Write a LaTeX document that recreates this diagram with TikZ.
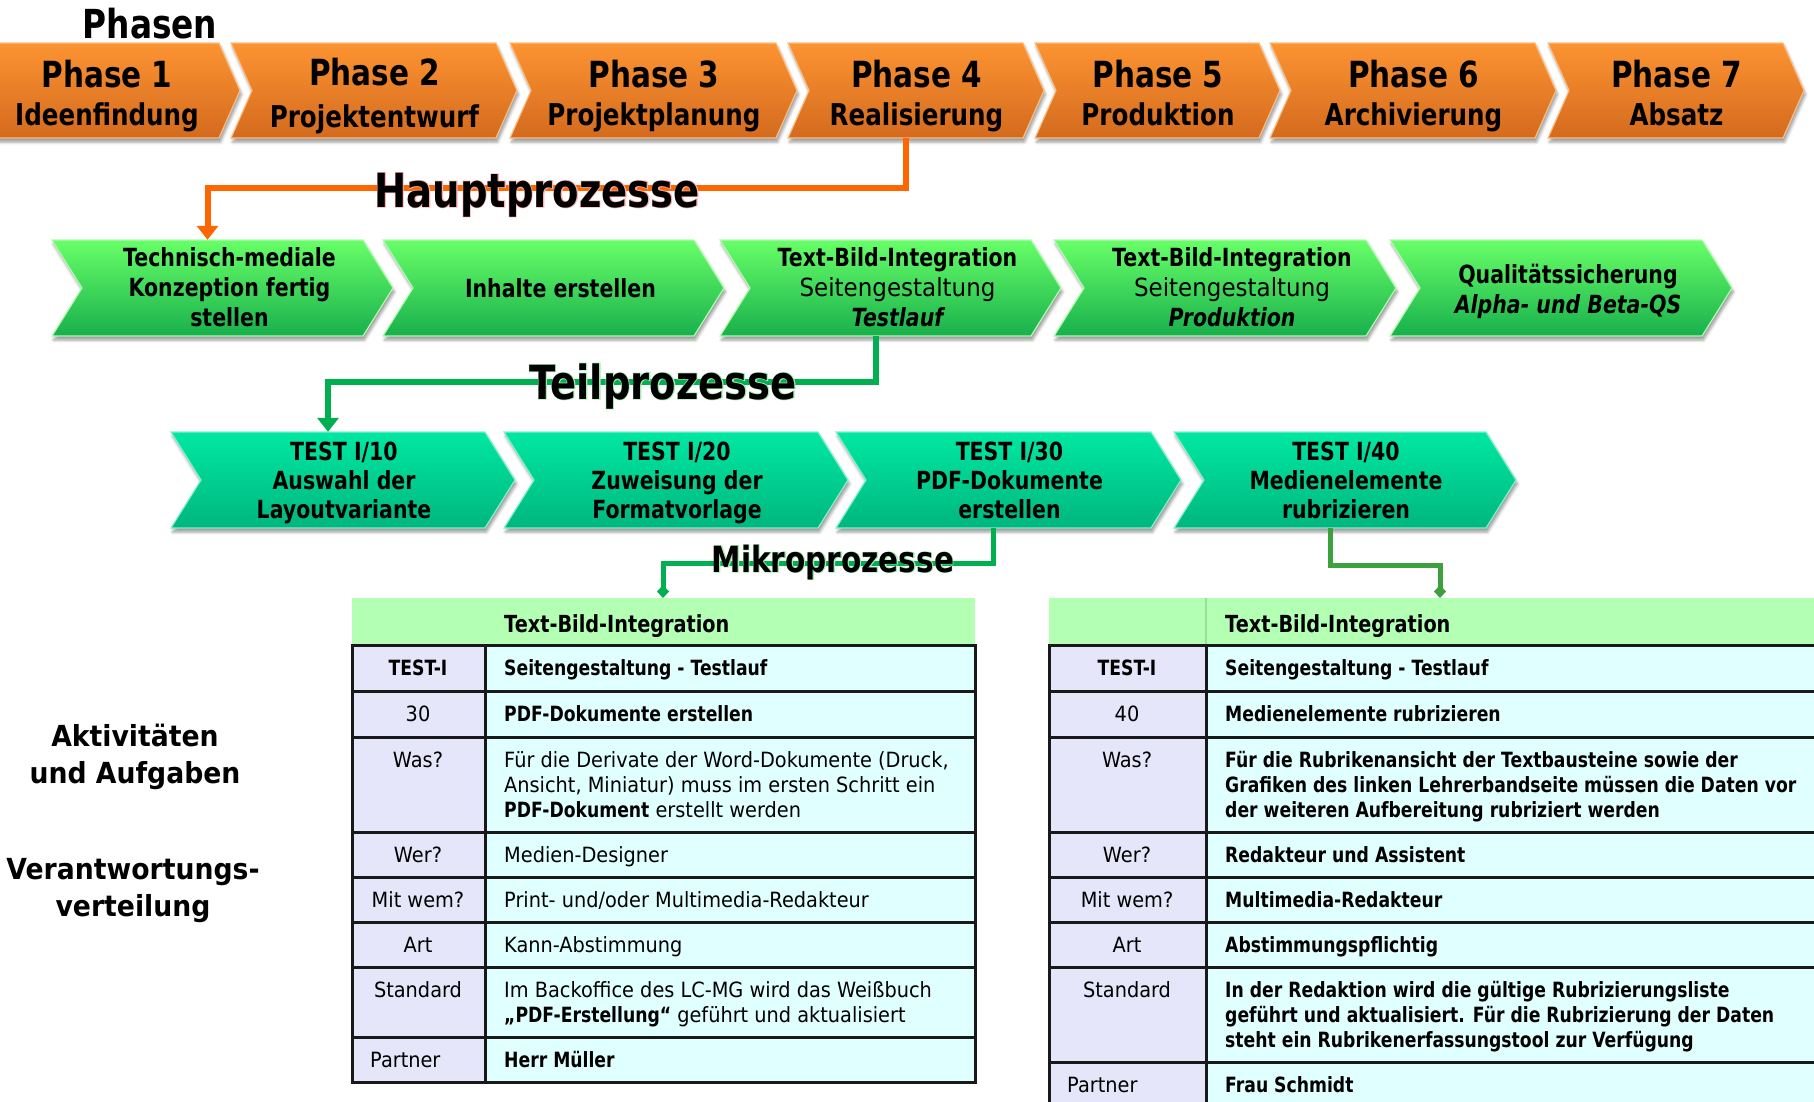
\documentclass[tikz,border=0pt]{standalone}
\usepackage{fontspec}
\setmainfont{DejaVu Sans}[
  UprightFeatures={FakeStretch=0.92},
  BoldFeatures={FakeStretch=0.82},
  ItalicFeatures={FakeStretch=0.92},
  BoldItalicFeatures={FakeStretch=0.82}]
\newfontfamily\sidefont{DejaVu Sans}[
  UprightFeatures={FakeStretch=0.92},
  BoldFeatures={FakeStretch=0.92}]
\usetikzlibrary{arrows.meta,shadows.blur}

\definecolor{phTop}{RGB}{252,148,50}
\definecolor{phBot}{RGB}{212,106,30}
\definecolor{phEdge}{RGB}{250,190,130}
\definecolor{hpTop}{RGB}{104,255,104}
\definecolor{hpBot}{RGB}{24,176,76}
\definecolor{hpEdge}{RGB}{175,250,175}
\definecolor{tpTop}{RGB}{0,232,162}
\definecolor{tpBot}{RGB}{0,182,126}
\definecolor{tpEdge}{RGB}{130,240,205}
\definecolor{orLine}{RGB}{255,102,0}
\definecolor{grLine}{RGB}{0,176,80}
\definecolor{grLineB}{RGB}{60,160,60}
\definecolor{headGreen}{RGB}{179,255,179}
\definecolor{headRule}{RGB}{150,225,150}
\definecolor{lavCol}{RGB}{230,230,250}
\definecolor{cyanCol}{RGB}{224,255,255}
\definecolor{glowRed}{RGB}{255,175,175}
\definecolor{glowGreen}{RGB}{165,235,175}

% chevron body: #1 name, #2 left x, #3 right x, #4 top y, #5 bottom y, #6 tip depth, #7 style
\newcommand\chevron[7]{%
  \path[#7] (#2,#4) -- (#3,#4) -- ({#3+#6},{(#4+#5)/2}) -- (#3,#5)
     -- (#2,#5) -- ({#2+#6},{(#4+#5)/2}) -- cycle;
  \node[inner sep=0pt, minimum width={(#3)-(#2)}, minimum height={(#5)-(#4)}]
     (#1) at ({(#2+#3)/2},{(#4+#5)/2}) {};}

% stacked lines, anchored at the baseline of the first line
\newcommand\lines[2]{\begin{tabular}[t]{@{}#1@{}}#2\end{tabular}}

% text with a soft coloured halo behind it: #1 colour, #2 text
\newcommand\halo[2]{\rlap{\color{#1}\addfontfeature{FakeBold=3}#2}#2}

\begin{document}
\begin{tikzpicture}[x=1pt, y=-1pt,
  phase/.style={top color=phTop, bottom color=phBot, draw=phEdge, line width=1.2pt,
    blur shadow={shadow xshift=1.5pt, shadow yshift=-4pt, shadow blur radius=3pt, shadow opacity=40}},
  haupt/.style={top color=hpTop, bottom color=hpBot, draw=hpEdge, line width=1.2pt,
    blur shadow={shadow xshift=1.5pt, shadow yshift=-4pt, shadow blur radius=3pt, shadow opacity=40}},
  teil/.style={top color=tpTop, bottom color=tpBot, draw=tpEdge, line width=1.2pt,
    blur shadow={shadow xshift=1.5pt, shadow yshift=-4pt, shadow blur radius=3pt, shadow opacity=40}},
  phtitle/.style={anchor=base, inner sep=0pt, font=\fontsize{36}{40}\selectfont\bfseries},
  phsub/.style={anchor=base, inner sep=0pt, font=\fontsize{30}{34}\selectfont\bfseries},
  chevtext/.style={anchor=base, inner sep=0pt, font=\fontsize{25}{30}\selectfont\bfseries},
  teiltext/.style={anchor=base, inner sep=0pt, font=\fontsize{25}{29}\selectfont\bfseries},
  bigtitle/.style={anchor=base, inner sep=0pt, font=\fontsize{47}{50}\selectfont\bfseries},
  sidetitle/.style={anchor=base, inner sep=0pt, font=\sidefont\fontsize{29}{37}\selectfont\bfseries},
  cellc/.style={anchor=base, inner sep=0pt, font=\fontsize{21}{25}\selectfont},
  cellcb/.style={anchor=base, inner sep=0pt, font=\fontsize{21}{25}\selectfont\bfseries},
  celll/.style={anchor=base west, inner sep=0pt, font=\fontsize{21}{25}\selectfont},
  celllb/.style={anchor=base west, inner sep=0pt, font=\fontsize{21}{25}\selectfont\bfseries},
  headtext/.style={anchor=base west, inner sep=0pt, font=\fontsize{23.5}{27}\selectfont\bfseries},
  grid/.style={line width=3pt, black!90},
  orconn/.style={draw=orLine, line width=6pt, -{Triangle[width=21pt,length=14pt]}},
  grconn/.style={draw=grLine, line width=6pt, -{Triangle[width=21pt,length=14pt]}},
  mkconn/.style={line width=5pt, -{Diamond[width=12pt,length=13pt]}}
]
\useasboundingbox (0,0) rectangle (1814,1101);
\clip (0,0) rectangle (1814,1101);

% ---------- phases ----------
\chevron{p1}{-26}{219}{43}{138}{21}{phase}
\chevron{p2}{231}{496}{43}{138}{21}{phase}
\chevron{p3}{510}{776}{43}{138}{21}{phase}
\chevron{p4}{788}{1023}{43}{138}{21}{phase}
\chevron{p5}{1035}{1259}{43}{138}{21}{phase}
\chevron{p6}{1270}{1535}{43}{138}{21}{phase}
\chevron{p7}{1548}{1783}{43}{138}{21}{phase}

\node[phtitle] (p1a) at (107,87) {Phase 1};
\node[phsub]   (p1b) at (107,125) {Ideenfindung};
\node[phtitle] (p2a) at (374.5,85) {Phase 2};
\node[phsub]   (p2b) at (374.5,127) {Projektentwurf};
\node[phtitle] (p3a) at (654,87) {Phase 3};
\node[phsub]   (p3b) at (654,125) {Projektplanung};
\node[phtitle] (p4a) at (916.5,87) {Phase 4};
\node[phsub]   (p4b) at (916.5,125) {Realisierung};
\node[phtitle] (p5a) at (1158,87) {Phase 5};
\node[phsub]   (p5b) at (1158,125) {Produktion};
\node[phtitle] (p6a) at (1413.5,87) {Phase 6};
\node[phsub]   (p6b) at (1413.5,125) {Archivierung};
\node[phtitle] (p7a) at (1676.5,87) {Phase 7};
\node[phsub]   (p7b) at (1676.5,125) {Absatz};

% ---------- main processes ----------
\chevron{g1}{52}{363}{240}{336}{30}{haupt}
\chevron{g2}{383}{694}{240}{336}{30}{haupt}
\chevron{g3}{720}{1031}{240}{336}{30}{haupt}
\chevron{g4}{1054}{1366}{240}{336}{30}{haupt}
\chevron{g5}{1390}{1702}{240}{336}{30}{haupt}

\node[chevtext] (g1t) at (229.5,266) {\lines{c}{Technisch-mediale\\Konzeption fertig\\stellen}};
\node[chevtext] (g2t) at (560.5,297) {Inhalte erstellen};
\node[chevtext] (g3t) at (897.5,266) {\lines{c}{Text-Bild-Integration\\\mdseries Seitengestaltung\\\itshape Testlauf}};
\node[chevtext] (g4t) at (1232,266) {\lines{c}{Text-Bild-Integration\\\mdseries Seitengestaltung\\\itshape Produktion}};
\node[chevtext] (g5t) at (1568,283) {\lines{c}{Qualitätssicherung\\\itshape Alpha- und Beta-QS}};

% ---------- sub processes ----------
\chevron{t1}{171}{485}{432}{528}{30}{teil}
\chevron{t2}{504}{818}{432}{528}{30}{teil}
\chevron{t3}{836}{1151}{432}{528}{30}{teil}
\chevron{t4}{1174}{1486}{432}{528}{30}{teil}

\node[teiltext] (t1t) at (344,460) {\lines{c}{TEST I/10\\Auswahl der\\Layoutvariante}};
\node[teiltext] (t2t) at (677,460) {\lines{c}{TEST I/20\\Zuweisung der\\Formatvorlage}};
\node[teiltext] (t3t) at (1009.5,460) {\lines{c}{TEST I/30\\PDF-Dokumente\\erstellen}};
\node[teiltext] (t4t) at (1346,460) {\lines{c}{TEST I/40\\Medienelemente\\rubrizieren}};

% ---------- table headers (connector targets) ----------
\node[inner sep=0pt, fill=headGreen, minimum width=623, minimum height=47] (lthead) at (663.5,621.5) {};
\node[inner sep=0pt, fill=headGreen, minimum width=781, minimum height=47] (rthead) at (1439.5,621.5) {};
\coordinate (ltin) at (663,598);
\coordinate (rtin) at (1440,598);

% ---------- connectors ----------
\draw[orconn] (p4.south) -- ++(0,50) -| (g1.north);
\draw[grconn] (g3.south) -- ++(0,46) -| (t1.north);
\draw[mkconn, draw=grLine] (t3.south) -- ++(0,35) -| (ltin);
\draw[mkconn, draw=grLineB] (t4.south) -- ++(0,37) -| (rtin);

% ---------- level titles ----------
\node[anchor=base, inner sep=0pt, font=\fontsize{40}{44}\selectfont\bfseries] (phasen) at (150,38) {Phasen};
\node[bigtitle] (haupt) at (537,207) {\halo{glowRed}{Hauptprozesse}};
\node[bigtitle] (teil) at (663,399) {\halo{glowGreen}{Teilprozesse}};
\node[anchor=base, inner sep=0pt, font=\fontsize{36}{40}\selectfont\bfseries] (mikro) at (833,572) {\halo{glowGreen}{Mikroprozesse}};

\node[sidetitle] (aufg) at (135,746) {\lines{c}{Aktivitäten\\und Aufgaben}};
\node[sidetitle] (verant) at (133,879) {\lines{c}{Verantwortungs-\\verteilung}};

% ---------- left table ----------
\fill[lavCol] (352,645) rectangle (485,1082);
\fill[cyanCol] (485,645) rectangle (975,1082);
\draw[grid] (352,645) rectangle (975,1082);
\foreach \yy in {691,737,832,877,922,967,1037} \draw[grid] (352,\yy) -- (975,\yy);
\draw[grid] (485,645) -- (485,1082);

\node[headtext] (lh) at (504,632) {Text-Bild-Integration};
\node[cellcb] (la1) at (418,675) {TEST-I};
\node[cellc] (la2) at (418,721) {30};
\node[cellc] (la3) at (418,767) {Was?};
\node[cellc] (la4) at (418,862) {Wer?};
\node[cellc] (la5) at (418,907) {Mit wem?};
\node[cellc] (la6) at (418,952) {Art};
\node[cellc] (la7) at (418,997) {Standard};
\node[celll] (la8) at (370,1067) {Partner};

\node[celllb] (lb1) at (504,675) {Seitengestaltung - Testlauf};
\node[celllb] (lb2) at (504,721) {PDF-Dokumente erstellen};
\node[celll] (lb3) at (504,767) {\lines{l}{Für die Derivate der Word-Dokumente (Druck,\\Ansicht, Miniatur) muss im ersten Schritt ein\\\textbf{PDF-Dokument} erstellt werden}};
\node[celll] (lb4) at (504,862) {Medien-Designer};
\node[celll] (lb5) at (504,907) {Print- und/oder Multimedia-Redakteur};
\node[celll] (lb6) at (504,952) {Kann-Abstimmung};
\node[celll] (lb7) at (504,997) {\lines{l}{Im Backoffice des LC-MG wird das Weißbuch\\\textbf{„PDF-Erstellung“} geführt und aktualisiert}};
\node[celllb] (lb8) at (504,1067) {Herr Müller};

% ---------- right table ----------
\draw[headRule, line width=1.5pt] (1206,598) -- (1206,645);
\fill[lavCol] (1049,645) rectangle (1206,1120);
\fill[cyanCol] (1206,645) rectangle (1840,1120);
\draw[grid] (1049,1120) -- (1049,645) -- (1840,645);
\foreach \yy in {691,737,832,877,922,967,1062} \draw[grid] (1049,\yy) -- (1840,\yy);
\draw[grid] (1206,645) -- (1206,1120);

\node[headtext] (rh) at (1225,632) {Text-Bild-Integration};
\node[cellcb] (ra1) at (1127,675) {TEST-I};
\node[cellc] (ra2) at (1127,721) {40};
\node[cellc] (ra3) at (1127,767) {Was?};
\node[cellc] (ra4) at (1127,862) {Wer?};
\node[cellc] (ra5) at (1127,907) {Mit wem?};
\node[cellc] (ra6) at (1127,952) {Art};
\node[cellc] (ra7) at (1127,997) {Standard};
\node[celll] (ra8) at (1067,1092) {Partner};

\node[celllb] (rb1) at (1225,675) {Seitengestaltung - Testlauf};
\node[celllb] (rb2) at (1225,721) {Medienelemente rubrizieren};
\node[celllb] (rb3) at (1225,767) {\lines{l}{Für die Rubrikenansicht der Textbausteine sowie der\\Grafiken des linken Lehrerbandseite müssen die Daten vor\\der weiteren Aufbereitung rubriziert werden}};
\node[celllb] (rb4) at (1225,862) {Redakteur und Assistent};
\node[celllb] (rb5) at (1225,907) {Multimedia-Redakteur};
\node[celllb] (rb6) at (1225,952) {Abstimmungspflichtig};
\node[celllb] (rb7) at (1225,997) {\lines{l}{In der Redaktion wird die gültige Rubrizierungsliste\\geführt und aktualisiert. Für die Rubrizierung der Daten\\steht ein Rubrikenerfassungstool zur Verfügung}};
\node[celllb] (rb8) at (1225,1092) {Frau Schmidt};
\end{tikzpicture}
\end{document}
